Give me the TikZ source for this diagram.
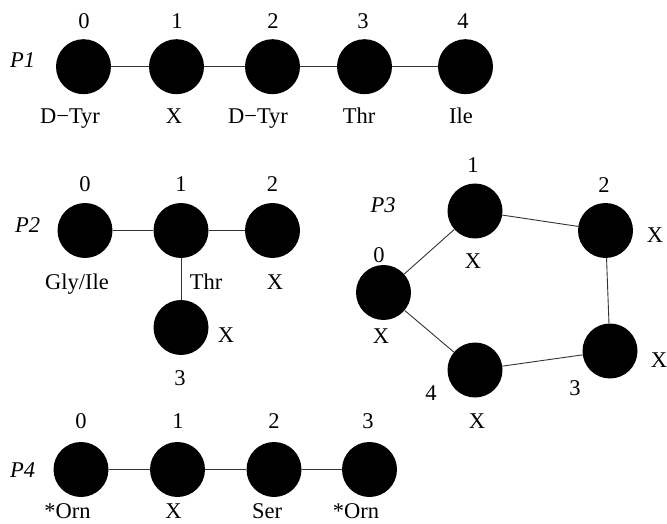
\documentclass[tikz,border=0pt]{standalone}
\usepackage{fontspec}
\setmainfont{Liberation Serif}
\usepackage{tikz}
\newcommand{\pepfont}{\fontsize{22.5}{27}\selectfont}

\begin{document}
\begin{tikzpicture}[
  x=1pt,
  y=-1pt,
  font=\pepfont,
  residue/.style={circle,fill=black,minimum size=55pt,inner sep=0pt},
  txt/.style={anchor=base,inner sep=0pt},
  pname/.style={txt,font=\pepfont\itshape},
  link/.style={black!80,line width=0.9pt}
]
  \useasboundingbox (0,0) rectangle (667,524);

  % P1: linear chain.
  \node[pname] (p1) at (22.5,68) {P1};
  \foreach \i/\x/\ix/\rx/\res in
    {0/83.5/84/70/D−Tyr,1/176.5/177/174/X,2/272.5/273/258/D−Tyr,
     3/364.5/363/359/Thr,4/465.5/463/461/Ile}
    {
      \node[residue] (a\i) at (\x,66.7) {};
      \node[txt] (a\i n) at (\ix,29) {\i};
      \node[txt] (a\i r) at (\rx,124) {\res};
    }
  \draw[link] (a0) -- (a1) -- (a2) -- (a3) -- (a4);

  % P2: branched at residue 1.
  \node[pname] (p2) at (27.5,232) {P2};
  \foreach \i/\x/\rx/\res in {0/85/77/{Gly/Ile},1/181/206/Thr,2/272.5/275/X}
    {
      \node[residue] (b\i) at (\x,230.5) {};
      \node[txt] (b\i n) at (\x,192) {\i};
      \node[txt] (b\i r) at (\rx,289.5) {\res};
    }
  \node[residue] (b3) at (181,327.5) {};
  \node[txt] (b3 n) at (180,385) {3};
  \node[txt] (b3 r) at (226,342) {X};
  \draw[link] (b0) -- (b1) -- (b2);
  \draw[link] (b1) -- (b3);

  % P3: cyclic.
  \node[pname] (p3) at (383,212) {P3};
  \foreach \i/\x/\y/\ix/\iy/\rx/\ry in
    {0/383.5/292.5/379/262/381/343,
     1/475/211/473/173/473/268,
     2/605.5/230.5/604/193/655/242,
     3/610/351/575/395/659/367,
     4/475/370/431/400/477/428}
    {
      \node[residue] (c\i) at (\x,\y) {};
      \node[txt] (c\i n) at (\ix,\iy) {\i};
      \node[txt] (c\i r) at (\rx,\ry) {X};
    }
  \draw[link] (c0) -- (c1) -- (c2) -- (c3) -- (c4) -- (c0);

  % P4: linear chain.
  \node[pname] (p4) at (22.5,477) {P4};
  \foreach \i/\x/\ix/\rx/\res in
    {0/81/81/67.5/*Orn,1/177.5/178/173.5/X,2/274/274/267/Ser,3/369.5/368/356/*Orn}
    {
      \node[residue] (d\i) at (\x,469.5) {};
      \node[txt] (d\i n) at (\ix,428) {\i};
      \node[txt] (d\i r) at (\rx,518) {\res};
    }
  \draw[link] (d0) -- (d1) -- (d2) -- (d3);
\end{tikzpicture}
\end{document}
